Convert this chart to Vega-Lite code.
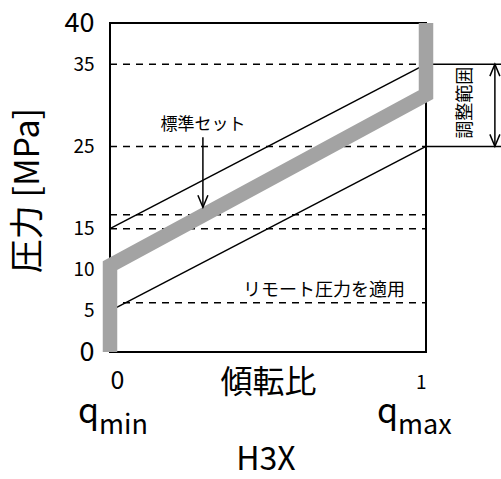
{
  "$schema": "https://vega.github.io/schema/vega-lite/v6.json",
  "width": 316,
  "height": 329,
  "autosize": {"type": "none"},
  "padding": {"left": 110, "top": 23, "right": 75, "bottom": 127},
  "background": "white",
  "config": {
    "view": {"stroke": "black", "strokeWidth": 2},
    "font": "Noto Sans CJK JP",
    "text": {"font": "Noto Sans CJK JP", "color": "black"}
  },
  "encoding": {
    "x": {
      "field": "q", "type": "quantitative",
      "scale": {"domain": [0, 1], "nice": false, "zero": false},
      "axis": {
        "values": [0, 1], "format": "d", "ticks": false, "domain": false, "grid": false,
        "labelFont": "Noto Sans CJK JP", "labelColor": "black", "labelPadding": 36, "labelBaseline": "alphabetic",
        "labelFontSize": {"condition": {"test": "datum.value == 0", "value": 25}, "value": 19},
        "title": "傾転比", "titleFont": "Noto Sans CJK JP", "titleFontSize": 32, "titleFontWeight": "normal",
        "titleColor": "black", "titleBaseline": "alphabetic", "titleY": 40, "titleX": 158, "titleAlign": "center"
      }
    },
    "y": {
      "field": "p", "type": "quantitative",
      "scale": {"domain": [0, 40], "nice": false, "zero": false},
      "axis": {
        "values": [0, 5, 10, 15, 25, 35, 40], "ticks": false, "domain": false, "grid": false,
        "labelFont": "Noto Sans CJK JP", "labelColor": "black", "labelPadding": 16,
        "labelFontSize": {"condition": {"test": "datum.value == 0 || datum.value == 40", "value": 27}, "value": 19},
        "title": "圧力 [MPa]", "titleFont": "Noto Sans CJK JP", "titleFontSize": 34, "titleFontWeight": "normal",
        "titleColor": "black", "titleAngle": 270, "titleX": -82, "titleY": 167, "titleAlign": "center", "titleBaseline": "middle"
      }
    }
  },
  "layer": [
    {
      "data": {"values": [
        {"q": 0, "q2": 1, "p": 35},
        {"q": 0, "q2": 1, "p": 25},
        {"q": 0, "q2": 1, "p": 16.7},
        {"q": 0, "q2": 1, "p": 15},
        {"q": 0, "q2": 1, "p": 6.0}
      ]},
      "mark": {"type": "rule", "color": "black", "strokeWidth": 1.5, "strokeDash": [7, 6]},
      "encoding": {"x2": {"field": "q2"}}
    },
    {
      "data": {"values": [
        {"q": 1, "q2": 1.24, "p": 35},
        {"q": 1, "q2": 1.24, "p": 25}
      ]},
      "mark": {"type": "rule", "color": "black", "strokeWidth": 1.5},
      "encoding": {"x2": {"field": "q2"}}
    },
    {
      "data": {"values": [
        {"s": "a", "q": 0, "p": 15}, {"s": "a", "q": 1, "p": 35},
        {"s": "b", "q": 0, "p": 5}, {"s": "b", "q": 1, "p": 25}
      ]},
      "mark": {"type": "line", "color": "black", "strokeWidth": 1.5},
      "encoding": {"detail": {"field": "s"}}
    },
    {
      "data": {"values": [
        {"q": 0, "p": 0, "o": 1}, {"q": 0, "p": 10.5, "o": 2},
        {"q": 1, "p": 31.3, "o": 3}, {"q": 1, "p": 40, "o": 4}
      ]},
      "mark": {"type": "line", "color": "#a3a3a3", "strokeWidth": 14.5, "strokeJoin": "miter", "strokeCap": "butt"},
      "encoding": {"order": {"field": "o"}}
    },
    {
      "data": {"values": [
        {"q": 0.294, "p": 26.1, "p2": 17.6},
        {"q": 1.218, "p": 35, "p2": 25}
      ]},
      "mark": {"type": "rule", "color": "black", "strokeWidth": 1.5},
      "encoding": {"y2": {"field": "p2"}}
    },
    {
      "data": {"values": [{"q": 0.294, "p": 17.6}, {"q": 1.218, "p": 25}]},
      "mark": {"type": "point", "shape": "M-1,-2.4L0,0L1,-2.4", "size": 100, "filled": false, "stroke": "black", "strokeWidth": 1.5, "opacity": 1}
    },
    {
      "data": {"values": [{"q": 1.218, "p": 35}]},
      "mark": {"type": "point", "shape": "M-1,2.4L0,0L1,2.4", "size": 100, "filled": false, "stroke": "black", "strokeWidth": 1.5, "opacity": 1}
    },
    {
      "data": {"values": [{"q": 0.294, "p": 27.0, "t": "標準セット"}]},
      "mark": {"type": "text", "fontSize": 17, "align": "center", "baseline": "alphabetic"},
      "encoding": {"text": {"field": "t"}}
    },
    {
      "data": {"values": [{"q": 0.677, "p": 6.8, "t": "リモート圧力を適用"}]},
      "mark": {"type": "text", "fontSize": 18, "align": "center", "baseline": "alphabetic"},
      "encoding": {"text": {"field": "t"}}
    },
    {
      "data": {"values": [{"q": 1.127, "p": 30.3, "t": "調整範囲"}]},
      "mark": {"type": "text", "fontSize": 18, "align": "center", "baseline": "middle", "angle": 270},
      "encoding": {"text": {"field": "t"}}
    },
    {
      "data": {"values": [{"q": 0, "p": 0, "t": "q"}]},
      "mark": {"type": "text", "fontSize": 34, "align": "right", "baseline": "alphabetic", "dx": -11, "dy": 71},
      "encoding": {"text": {"field": "t"}}
    },
    {
      "data": {"values": [{"q": 0, "p": 0, "t": "min"}]},
      "mark": {"type": "text", "fontSize": 27, "align": "left", "baseline": "alphabetic", "dx": -11, "dy": 82},
      "encoding": {"text": {"field": "t"}}
    },
    {
      "data": {"values": [{"q": 1, "p": 0, "t": "q"}]},
      "mark": {"type": "text", "fontSize": 34, "align": "right", "baseline": "alphabetic", "dx": -28, "dy": 71},
      "encoding": {"text": {"field": "t"}}
    },
    {
      "data": {"values": [{"q": 1, "p": 0, "t": "max"}]},
      "mark": {"type": "text", "fontSize": 27, "align": "left", "baseline": "alphabetic", "dx": -28, "dy": 82},
      "encoding": {"text": {"field": "t"}}
    },
    {
      "data": {"values": [{"q": 0.5, "p": 0, "t": "H3X"}]},
      "mark": {"type": "text", "fontSize": 32, "align": "center", "baseline": "alphabetic", "dx": -2, "dy": 118},
      "encoding": {"text": {"field": "t"}}
    }
  ]
}
